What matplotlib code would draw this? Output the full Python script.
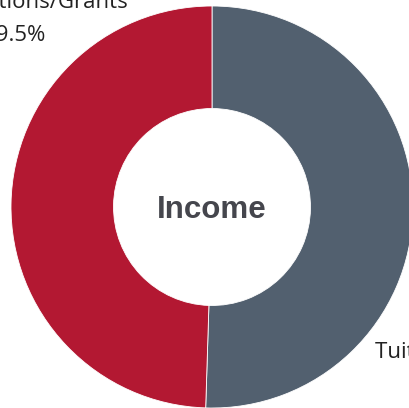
import matplotlib.pyplot as plt

labels = ["Tuition", "Donations/Grants"]
shares = [50.5, 49.5]
colors = ["#52606f", "#b31832"]

fig = plt.figure(figsize=(4.09, 4.08), dpi=100)
ax = fig.add_axes([0, 0, 1, 1])

cx, cy, r = 212, 201, 201
ax.pie(shares, colors=colors, startangle=90, counterclock=False,
       center=(cx, cy), radius=r, frame=True,
       wedgeprops=dict(width=r * 0.51, linewidth=0.6, edgecolor="white"))
ax.set_xlim(0, 409)
ax.set_ylim(0, 408)
ax.set_aspect("equal")
ax.axis("off")

ax.text(cx, 190, "Income", ha="center", va="baseline", fontsize=22.5,
        fontweight="bold", color="#45464d", family="Liberation Sans")

# outside labels, partly cut by the canvas edge as in the original
lab = dict(va="baseline", fontsize=16, family="Open Sans", color="#222222")
ax.text(375, 50, "%s %.1f%%" % (labels[0], shares[0]), ha="left", **lab)
ax.text(129, 400, labels[1], ha="right", **lab)
ax.text(46, 367, "%.1f%%" % shares[1], ha="right", **lab)

fig.savefig("out.png", dpi=100)
